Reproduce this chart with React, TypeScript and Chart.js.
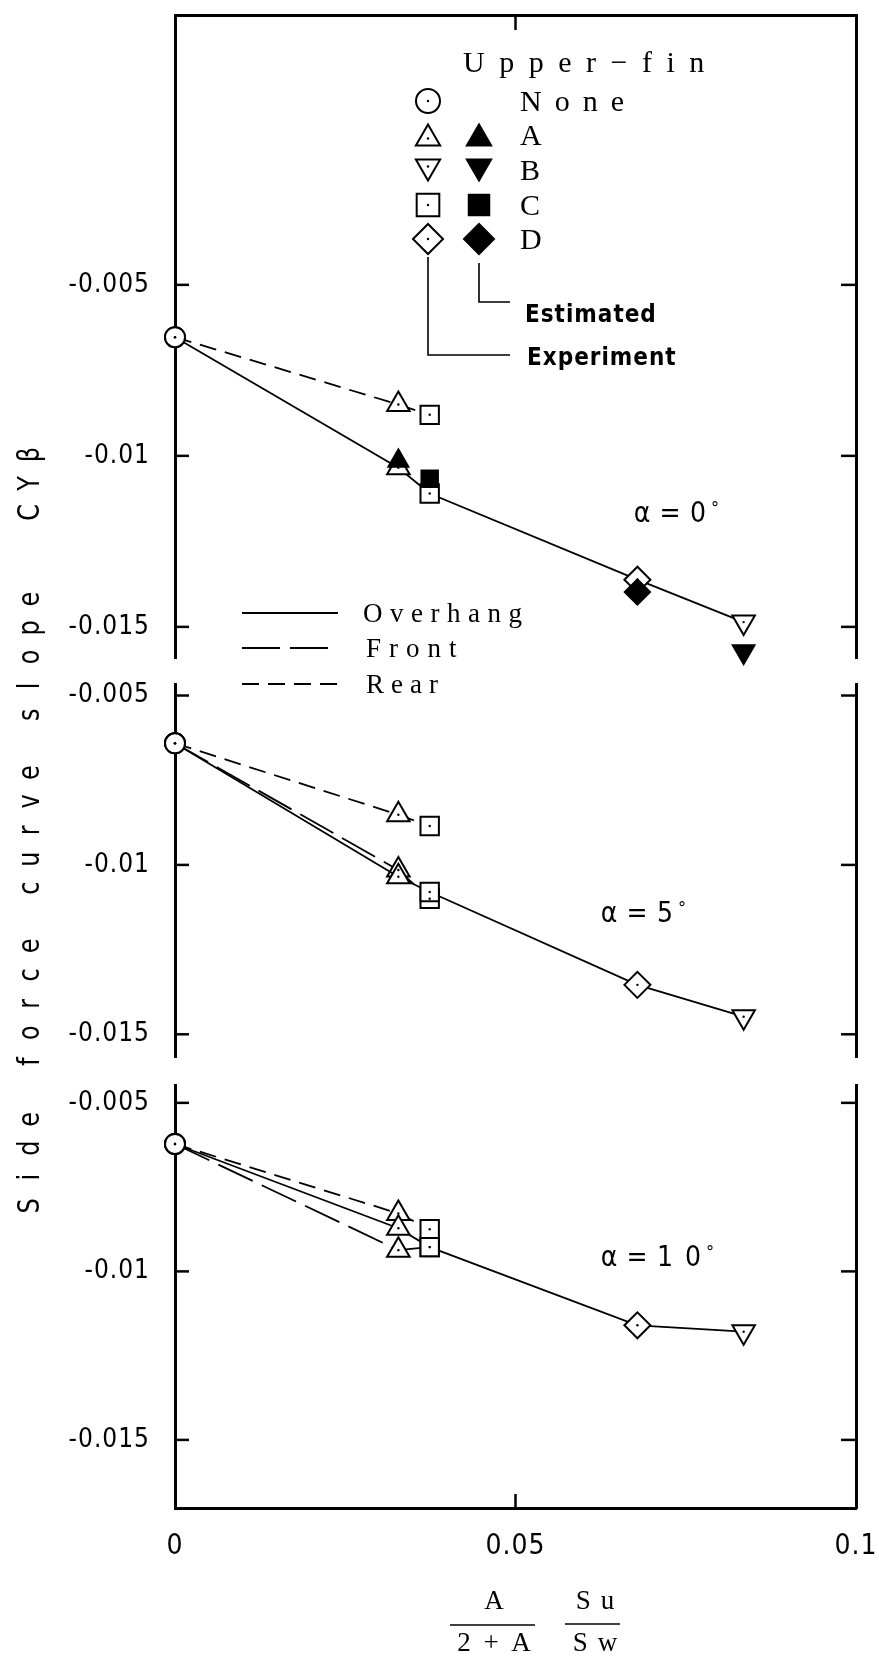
import React, { useEffect, useRef } from 'react';
import { Chart, registerables } from 'chart.js';

Chart.register(...registerables);

const W = 879;
const H = 1657;

// ---------------- data ----------------
// configurations along each curve: None, A, C, D, B
const finNames = ['None', 'A', 'C', 'D', 'B'];
const finX = [0, 0.0328, 0.0374, 0.0679, 0.0835];
const finStyle = ['circle', 'triangle', 'rect', 'rectRot', 'triangle'];
const finRotation = [0, 0, 0, 0, 180];
const finRadius = [10, 13, 13, 13, 13];
const estRadius = [12, 12, 13, 13]; // A, C, D, B (filled, estimated)

const xTicks = [0, 0.05, 0.1];
const xTickLabels = ['0', '0.05', '0.1'];
const yTicks = [-0.005, -0.01, -0.015];
const yTickLabels = ['-0.005', '-0.01', '-0.015'];

// alpha = 0 deg
const a0Overhang = [-0.00653, -0.01035, -0.0111, -0.01362, -0.01486];
const a0Rear = [-0.00653, -0.0085, -0.0088];
const a0Estimated = [-0.01015, -0.01067, -0.01398, -0.01572]; // A, C, D, B
// alpha = 5 deg
const a5Overhang = [-0.00641, -0.01035, -0.0108, -0.01354, -0.01448];
const a5Front = [-0.00641, -0.01015, -0.0110];
const a5Rear = [-0.00641, -0.00852, -0.00885];
// alpha = 10 deg
const a10Overhang = [-0.00622, -0.00872, -0.00928, -0.0116, -0.01179];
const a10Front = [-0.00622, -0.00937, -0.00928];
const a10Rear = [-0.00622, -0.00828, -0.00875];

const alphaLabels = ['α=0', 'α=5', 'α=10'];
const panelYMin = [-0.01591, -0.01567, -0.01702];
const panelYMax = [0.00289, -0.00466, -0.00447];

// ---------------- layout / style ----------------
const PLOT_LEFT = 175;
const PLOT_RIGHT = 856;
const panelTop = [12, 684, 1085];
const panelBottom = [658, 1057, 1508];
const alphaPos = [[642, 515], [609, 915], [609, 1259]];

const SANS_N = "'Liberation Sans Narrow', 'DejaVu Sans Condensed', 'Liberation Sans', sans-serif";
const SERIF = "'Liberation Serif', 'DejaVu Serif', serif";
const SANS = "'DejaVu Sans', 'Liberation Sans', sans-serif";

const DASH_REAR = [17, 9];
const DASH_FRONT = [38, 10];

function lineDataset(values: number[], dash: number[], order: number) {
  const n = values.length;
  return {
    data: values.map((v, i) => ({ x: finX[i], y: v })),
    showLine: true,
    borderColor: '#000',
    borderWidth: 1.8,
    borderDash: dash,
    pointStyle: finStyle.slice(0, n),
    pointRotation: finRotation.slice(0, n),
    pointRadius: finRadius.slice(0, n),
    pointBorderWidth: 2,
    pointBorderColor: '#000',
    pointBackgroundColor: '#fff',
    clip: false,
    order,
    openMarker: true,
  };
}

function estimatedDataset(values: number[]) {
  return {
    data: values.map((v, i) => ({ x: finX[i + 1], y: v })),
    showLine: false,
    pointStyle: finStyle.slice(1),
    pointRotation: finRotation.slice(1),
    pointRadius: estRadius,
    pointBorderWidth: 1.5,
    pointBorderColor: '#000',
    pointBackgroundColor: '#000',
    clip: false,
    order: 0,
  };
}

function spaced(ctx: CanvasRenderingContext2D, text: string, x: number, y: number, spacing: number, align = 'left') {
  const chars = Array.from(text);
  const widths = chars.map((c) => ctx.measureText(c).width);
  const total = widths.reduce((a, b) => a + b, 0) + spacing * (chars.length - 1);
  let cx = align === 'center' ? x - total / 2 : align === 'right' ? x - total : x;
  ctx.textAlign = 'left';
  chars.forEach((c, i) => {
    ctx.fillText(c, cx, y);
    cx += widths[i] + spacing;
  });
}

function marker(ctx: CanvasRenderingContext2D, style: string, x: number, y: number, r: number, filled: boolean, rot = 0) {
  ctx.beginPath();
  if (style === 'circle') {
    ctx.arc(x, y, r, 0, Math.PI * 2);
  } else if (style === 'triangle') {
    let a = (rot * Math.PI) / 180;
    for (let k = 0; k < 3; k++) {
      const px = x + Math.sin(a) * r;
      const py = y - Math.cos(a) * r;
      if (k === 0) ctx.moveTo(px, py);
      else ctx.lineTo(px, py);
      a += (2 * Math.PI) / 3;
    }
    ctx.closePath();
  } else if (style === 'rect') {
    const s = Math.SQRT1_2 * r;
    ctx.rect(x - s, y - s, 2 * s, 2 * s);
  } else if (style === 'rectRot') {
    ctx.moveTo(x - r, y);
    ctx.lineTo(x, y - r);
    ctx.lineTo(x + r, y);
    ctx.lineTo(x, y + r);
    ctx.closePath();
  }
  ctx.fillStyle = filled ? '#000' : '#fff';
  ctx.fill();
  ctx.lineWidth = 2;
  ctx.strokeStyle = '#000';
  ctx.stroke();
  if (!filled) {
    ctx.beginPath();
    ctx.arc(x, y, 1.2, 0, Math.PI * 2);
    ctx.fillStyle = '#000';
    ctx.fill();
  }
}

function line(ctx: CanvasRenderingContext2D, x1: number, y1: number, x2: number, y2: number) {
  ctx.beginPath();
  ctx.moveTo(x1, y1);
  ctx.lineTo(x2, y2);
  ctx.stroke();
}

// plugin: letter spacing for library tick labels
const spacingPlugin = {
  id: 'tickSpacing',
  beforeDraw(chart: any) {
    (chart.ctx as any).letterSpacing = '1px';
  },
  afterDraw(chart: any) {
    (chart.ctx as any).letterSpacing = '0px';
  },
};

// plugin: inward ticks, dots in open markers, alpha label
function panelPlugin(p: number) {
  return {
    id: 'panelDecor' + p,
    afterDraw(chart: any) {
      const ctx: CanvasRenderingContext2D = chart.ctx;
      const { left, right, top, bottom } = chart.chartArea;
      const ys = chart.scales.y;
      const xs = chart.scales.x;
      ctx.save();
      (ctx as any).letterSpacing = '0px';
      ctx.strokeStyle = '#000';
      ctx.lineWidth = 2.5;
      ctx.setLineDash([]);
      yTicks.forEach((t) => {
        const py = ys.getPixelForValue(t);
        line(ctx, left, py, left + 14, py);
        line(ctx, right - 15, py, right, py);
      });
      const pm = xs.getPixelForValue(xTicks[1]);
      if (p === 0) line(ctx, pm, top, pm, top + 15);
      if (p === 2) line(ctx, pm, bottom, pm, bottom - 14);

      // dots in the centre of open markers
      chart.data.datasets.forEach((ds: any, i: number) => {
        if (!ds.openMarker) return;
        chart.getDatasetMeta(i).data.forEach((el: any) => {
          ctx.beginPath();
          ctx.arc(el.x, el.y, 1.2, 0, Math.PI * 2);
          ctx.fillStyle = '#000';
          ctx.fill();
        });
      });

      // alpha label
      const [ax, ay] = alphaPos[p];
      ctx.fillStyle = '#000';
      ctx.textAlign = 'center';
      ctx.textBaseline = 'middle';
      ctx.font = `28px ${SANS_N}`;
      const chars = Array.from(alphaLabels[p]);
      chars.forEach((c, i) => ctx.fillText(c, ax + i * 28, ay));
      ctx.font = `18px ${SANS_N}`;
      ctx.fillText('°', ax + (chars.length - 1) * 28 + 17, ay - 6);
      ctx.restore();
    },
  };
}

// plugin: legend, axis titles (drawn on the first panel's full-page canvas)
const annotationPlugin = {
  id: 'annotations',
  afterDraw(chart: any) {
    const ctx: CanvasRenderingContext2D = chart.ctx;
    ctx.save();
    (ctx as any).letterSpacing = '0px';
    ctx.fillStyle = '#000';
    ctx.strokeStyle = '#000';
    ctx.textBaseline = 'alphabetic';

    // Upper-fin legend
    ctx.font = `30px ${SERIF}`;
    spaced(ctx, 'Upper−fin', 463, 72, 14.5);
    spaced(ctx, 'None', 520, 111, 13);
    const rows = [101, 135, 170, 205, 239];
    const letters = ['A', 'B', 'C', 'D'];
    letters.forEach((l, i) => spaced(ctx, l, 520, rows[i + 1] + 10, 0));
    const openX = 428;
    const fillX = 479;
    marker(ctx, 'circle', openX, rows[0], 12, false);
    marker(ctx, 'triangle', openX, rows[1] + 3.5, 14, false);
    marker(ctx, 'triangle', fillX, rows[1] + 3.5, 14, true);
    marker(ctx, 'triangle', openX, rows[2] - 3.5, 14, false, 180);
    marker(ctx, 'triangle', fillX, rows[2] - 3.5, 14, true, 180);
    marker(ctx, 'rect', openX, rows[3], 16, false);
    marker(ctx, 'rect', fillX, rows[3], 14.5, true);
    marker(ctx, 'rectRot', openX, rows[4], 15, false);
    marker(ctx, 'rectRot', fillX, rows[4], 15, true);

    ctx.lineWidth = 1.6;
    ctx.setLineDash([]);
    ctx.beginPath();
    ctx.moveTo(openX, 257);
    ctx.lineTo(openX, 355);
    ctx.lineTo(510, 355);
    ctx.moveTo(fillX, 263);
    ctx.lineTo(fillX, 302);
    ctx.lineTo(510, 302);
    ctx.stroke();
    ctx.fillStyle = '#000';
    ctx.font = `bold 24px ${SANS_N}`;
    spaced(ctx, 'Estimated', 525, 322, 1);
    spaced(ctx, 'Experiment', 527, 365, 1);

    // line-type legend
    ctx.lineWidth = 2;
    const lx1 = 242;
    const lx2 = 338;
    ctx.setLineDash([]);
    line(ctx, lx1, 613, lx2, 613);
    ctx.setLineDash(DASH_FRONT);
    line(ctx, lx1, 648, lx2, 648);
    ctx.setLineDash(DASH_REAR);
    line(ctx, lx1, 684, lx2, 684);
    ctx.setLineDash([]);
    ctx.font = `27px ${SERIF}`;
    spaced(ctx, 'Overhang', 363, 622, 7.5);
    spaced(ctx, 'Front', 366, 657, 8);
    spaced(ctx, 'Rear', 366, 693, 7);

    // y-axis title (vertical, fixed pitch)
    ctx.font = `30px ${SANS}`;
    const yTitle = Array.from('Side force curve slope  CYβ');
    yTitle.forEach((c, i) => {
      if (c === ' ') return;
      ctx.save();
      ctx.translate(39, 1206 - i * 28.9);
      ctx.rotate(-Math.PI / 2);
      ctx.scale(0.8, 1);
      ctx.textAlign = 'center';
      ctx.fillText(c, 0, 0);
      ctx.restore();
    });

    // x-axis title: A/(2+A) * Su/Sw
    ctx.font = `27px ${SERIF}`;
    spaced(ctx, 'A', 494, 1609, 0, 'center');
    spaced(ctx, '2 + A', 494, 1651, 3, 'center');
    spaced(ctx, 'Su', 595, 1609, 10, 'center');
    spaced(ctx, 'Sw', 595, 1651, 10, 'center');
    ctx.lineWidth = 1.6;
    line(ctx, 450, 1625, 535, 1625);
    line(ctx, 565, 1624, 620, 1624);
    ctx.restore();
  },
};

function panelConfig(p: number): any {
  let datasets: any[] = [];
  if (p === 0) {
    datasets = [estimatedDataset(a0Estimated), lineDataset(a0Overhang, [], 1), lineDataset(a0Rear, DASH_REAR, 2)];
  } else if (p === 1) {
    datasets = [lineDataset(a5Overhang, [], 1), lineDataset(a5Front, DASH_FRONT, 2), lineDataset(a5Rear, DASH_REAR, 3)];
  } else {
    datasets = [lineDataset(a10Overhang, [], 1), lineDataset(a10Front, DASH_FRONT, 2), lineDataset(a10Rear, DASH_REAR, 3)];
  }
  const bottomBox = p === 2 ? 100 : 0;
  const scales: any = {
    x: {
      type: 'linear',
      position: 'bottom',
      min: xTicks[0],
      max: xTicks[xTicks.length - 1],
      display: p === 2,
      afterBuildTicks: (s: any) => {
        s.ticks = xTicks.map((v) => ({ value: v }));
      },
      afterFit: (s: any) => {
        s.height = bottomBox;
        s.paddingLeft = 0;
        s.paddingRight = 0;
      },
      ticks: {
        callback: (_v: any, i: number) => xTickLabels[i],
        font: { family: SANS_N, size: 28 },
        color: '#000',
        padding: 22,
        maxRotation: 0,
        autoSkip: false,
      },
      grid: { display: false, drawTicks: false },
      border: { display: true, width: 3, color: '#000' },
    },
    y: {
      type: 'linear',
      position: 'left',
      min: panelYMin[p],
      max: panelYMax[p],
      afterBuildTicks: (s: any) => {
        s.ticks = yTicks.map((v) => ({ value: v }));
      },
      afterFit: (s: any) => {
        s.width = PLOT_LEFT;
        s.paddingTop = 0;
        s.paddingBottom = 0;
      },
      ticks: {
        callback: (_v: any, i: number) => yTickLabels[i],
        font: { family: SANS_N, size: 26 },
        color: '#000',
        padding: 25,
        autoSkip: false,
      },
      grid: { display: false, drawTicks: false },
      border: { display: true, width: 3, color: '#000' },
    },
    yR: {
      type: 'linear',
      position: 'right',
      min: panelYMin[p],
      max: panelYMax[p],
      ticks: { display: false },
      afterFit: (s: any) => {
        s.width = W - PLOT_RIGHT;
        s.paddingTop = 0;
        s.paddingBottom = 0;
      },
      grid: { display: false, drawTicks: false },
      border: { display: true, width: 3, color: '#000' },
    },
  };
  let topBox = 0;
  if (p === 0) {
    scales.xTop = {
      type: 'linear',
      position: 'top',
      min: xTicks[0],
      max: xTicks[xTicks.length - 1],
      ticks: { display: false },
      afterFit: (s: any) => {
        s.height = 0;
        s.paddingLeft = 0;
        s.paddingRight = 0;
      },
      grid: { display: false, drawTicks: false },
      border: { display: true, width: 3, color: '#000' },
    };
    topBox = 0;
  }
  const plugins: any[] = [spacingPlugin, panelPlugin(p)];
  if (p === 0) plugins.push(annotationPlugin);
  return {
    type: 'scatter',
    data: { datasets },
    options: {
      responsive: false,
      animation: false,
      devicePixelRatio: 1,
      events: [],
      layout: {
        padding: {
          left: 0,
          right: 0,
          top: panelTop[p] - topBox,
          bottom: H - panelBottom[p] - bottomBox,
        },
      },
      plugins: { legend: { display: false }, tooltip: { enabled: false }, title: { display: false } },
      scales,
    },
    plugins,
  };
}

export default function App() {
  const r0 = useRef<HTMLCanvasElement>(null);
  const r1 = useRef<HTMLCanvasElement>(null);
  const r2 = useRef<HTMLCanvasElement>(null);
  useEffect(() => {
    const refs = [r0, r1, r2];
    const charts = refs.map((r, p) => new Chart(r.current as HTMLCanvasElement, panelConfig(p)));
    return () => charts.forEach((c) => c.destroy());
  }, []);
  const cs: any = { position: 'absolute', left: 0, top: 0, width: W, height: H };
  return (
    <div style={{ position: 'absolute', left: 0, top: 0, width: W, height: H, background: '#fff', overflow: 'hidden' }}>
      <canvas ref={r0} width={W} height={H} style={cs} />
      <canvas ref={r1} width={W} height={H} style={cs} />
      <canvas ref={r2} width={W} height={H} style={cs} />
    </div>
  );
}
